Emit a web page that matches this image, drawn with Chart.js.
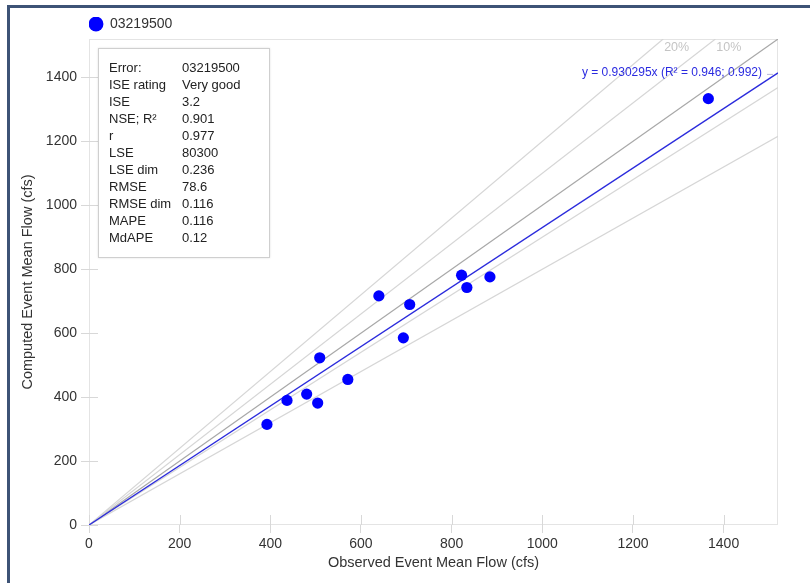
<!DOCTYPE html>
<html>
<head>
<meta charset="utf-8">
<script src="https://cdn.jsdelivr.net/npm/chart.js@4.4.1/dist/chart.umd.min.js"></script>
<style>
  html, body { margin: 0; padding: 0; background: #fff; }
  #wrap { position: relative; width: 810px; height: 583px; overflow: hidden; font-family: "Liberation Sans", Arial, Helvetica, sans-serif; }
  #frame { position: absolute; left: 7px; top: 5px; width: 900px; height: 700px; border-left: 3px solid #3d5376; border-top: 3px solid #3d5376; pointer-events: none; }
  #stats { position: absolute; left: 98px; top: 48px; width: 160px; height: 198px; border: 1px solid #cfcfcf; background: #fff; box-shadow: 0 0 2px rgba(0,0,0,0.12); padding: 9.5px 0 0 10px; box-sizing: content-box; }
  #stats table { border-collapse: collapse; font-size: 13px; color: #222; }
  #stats td { padding: 0; line-height: 17px; height: 17px; white-space: nowrap; }
  #stats td.k { width: 73px; }
</style>
</head>
<body>
<div id="wrap">
  <canvas id="c" width="810" height="583"></canvas>
  <div id="stats"><table id="statsTable"></table></div>
  <div id="frame"></div>
</div>
<script>
// ---- data ----
const seriesName = '03219500';
const observed = [392.6, 436.8, 480.2, 504.5, 509, 571, 639.5, 693.5, 707.5, 821.9, 833.6, 884.5, 1366.3];
const computed = [314.7, 389.7, 409.4, 381.3, 523, 455.3, 716.6, 585.3, 689.7, 781.3, 742.8, 776, 1333.4];
const axisMax = 1520;
const tickStep = 200;
const regressionSlope = 0.930295;
const regressionLabel = 'y = 0.930295x (R\u00B2 = 0.946; 0.992)';
const refRatios = [1.2, 1.1, 1.0, 0.9, 0.8];
const refLabels = ['20%', '10%', '', '', ''];
const statNames = ['Error:', 'ISE rating', 'ISE', 'NSE; R\u00B2', 'r', 'LSE', 'LSE dim', 'RMSE', 'RMSE dim', 'MAPE', 'MdAPE'];
const statValues = ['03219500', 'Very good', '3.2', '0.901', '0.977', '80300', '0.236', '78.6', '0.116', '0.116', '0.12'];
const xTitle = 'Observed Event Mean Flow (cfs)';
const yTitle = 'Computed Event Mean Flow (cfs)';

// ---- stats table ----
const tbl = document.getElementById('statsTable');
statNames.forEach((n, i) => {
  const tr = document.createElement('tr');
  const a = document.createElement('td'); a.className = 'k'; a.textContent = n;
  const b = document.createElement('td'); b.textContent = statValues[i];
  tr.appendChild(a); tr.appendChild(b); tbl.appendChild(tr);
});

const FONT = '"Liberation Sans", Arial, Helvetica, sans-serif';

// ---- datasets ----
const points = observed.map((x, i) => ({ x: x, y: computed[i] }));
const refSets = refRatios.map((k, i) => {
  const end = k > 1 ? { x: axisMax / k, y: axisMax } : { x: axisMax, y: axisMax * k };
  return {
    type: 'line', label: 'ref' + i, data: [{ x: 0, y: 0 }, end],
    borderColor: k === 1 ? '#a8a8a8' : '#d6d6d6', borderWidth: 1.2,
    pointRadius: 0, showLine: true, fill: false, order: 3
  };
});
const regSet = {
  type: 'line', label: 'fit', data: [{ x: 0, y: 0 }, { x: axisMax, y: axisMax * regressionSlope }],
  borderColor: '#2b2bdc', borderWidth: 1.3, pointRadius: 0, showLine: true, fill: false, order: 2
};

// ---- plugins ----
const boxAndTicks = {
  id: 'boxAndTicks',
  beforeDatasetsDraw(chart) {
    const { ctx, chartArea: a, scales } = chart;
    ctx.save();
    ctx.strokeStyle = '#e4e4e4';
    ctx.lineWidth = 1;
    ctx.strokeRect(a.left + 0.5, a.top + 0.5, a.right - a.left - 1, a.bottom - a.top - 1);
    ctx.strokeStyle = '#d8d8d8';
    ctx.beginPath();
    scales.x.ticks.forEach(t => {
      const px = Math.round(scales.x.getPixelForValue(t.value)) + 0.5;
      ctx.moveTo(px, a.bottom); ctx.lineTo(px, a.bottom - 10);
    });
    scales.y.ticks.forEach(t => {
      const py = Math.round(scales.y.getPixelForValue(t.value)) + 0.5;
      ctx.moveTo(a.left, py); ctx.lineTo(a.left + 9, py);
    });
    ctx.stroke();
    ctx.restore();
  },
  afterDatasetsDraw(chart) {
    const { ctx, chartArea: a, scales } = chart;
    ctx.save();
    ctx.font = '12.5px ' + FONT;
    ctx.fillStyle = '#c4c4c4';
    ctx.textBaseline = 'middle';
    ctx.textAlign = 'left';
    refRatios.forEach((k, i) => {
      if (!refLabels[i]) return;
      const px = scales.x.getPixelForValue(axisMax / k);
      ctx.fillText(refLabels[i], px + 1, a.top + 9);
    });
    const ry = scales.y.getPixelForValue(axisMax * regressionSlope);
    ctx.font = '12px ' + FONT;
    ctx.fillStyle = '#2b2be0';
    ctx.textAlign = 'right';
    ctx.fillText(regressionLabel, a.right - 16, ry);
    ctx.strokeStyle = '#b8b8d8';
    ctx.lineWidth = 1;
    ctx.beginPath();
    ctx.moveTo(a.right - 11, ry + 1.5); ctx.lineTo(a.right - 5, ry + 1.5);
    ctx.stroke();
    ctx.restore();
  }
};

const plainTick = v => String(v);

new Chart(document.getElementById('c'), {
  type: 'scatter',
  data: {
    datasets: [
      {
        label: seriesName, data: points, backgroundColor: '#0000ff', borderColor: '#0000ff',
        borderWidth: 0, pointRadius: 5.6, pointHoverRadius: 5.6, pointStyle: 'circle', order: 0
      },
      regSet,
      ...refSets
    ]
  },
  options: {
    responsive: false,
    animation: false,
    devicePixelRatio: 1,
    layout: { padding: { top: 17, right: 32, left: 0, bottom: 0 } },
    plugins: {
      tooltip: { enabled: false },
      legend: {
        position: 'top', align: 'start', fullSize: false, maxHeight: 22,
        labels: {
          usePointStyle: true, boxWidth: 14, boxHeight: 10.5, padding: 0,
          color: '#333', font: { family: FONT, size: 14 },
          filter: item => item.datasetIndex === 0
        }
      }
    },
    scales: {
      x: {
        type: 'linear', min: 0, max: axisMax,
        afterFit(s) { s.height = 58; },
        ticks: { stepSize: tickStep, includeBounds: false, callback: plainTick, color: '#333', padding: 3, font: { family: FONT, size: 14 } },
        grid: { drawOnChartArea: false, tickLength: 8, color: '#d8d8d8' },
        border: { display: false },
        title: { display: true, text: xTitle, color: '#333', font: { family: FONT, size: 14.5 }, padding: { top: 0, bottom: 11 } }
      },
      y: {
        type: 'linear', min: 0, max: axisMax,
        afterFit(s) { s.width = 89; },
        ticks: { stepSize: tickStep, includeBounds: false, callback: plainTick, color: '#333', padding: 4, font: { family: FONT, size: 14 } },
        grid: { drawOnChartArea: false, tickLength: 8, color: '#d8d8d8' },
        border: { display: false },
        title: { display: true, text: yTitle, color: '#333', font: { family: FONT, size: 14.5 }, padding: { top: 19, bottom: 0 } }
      }
    }
  },
  plugins: [boxAndTicks]
});
</script>
</body>
</html>
